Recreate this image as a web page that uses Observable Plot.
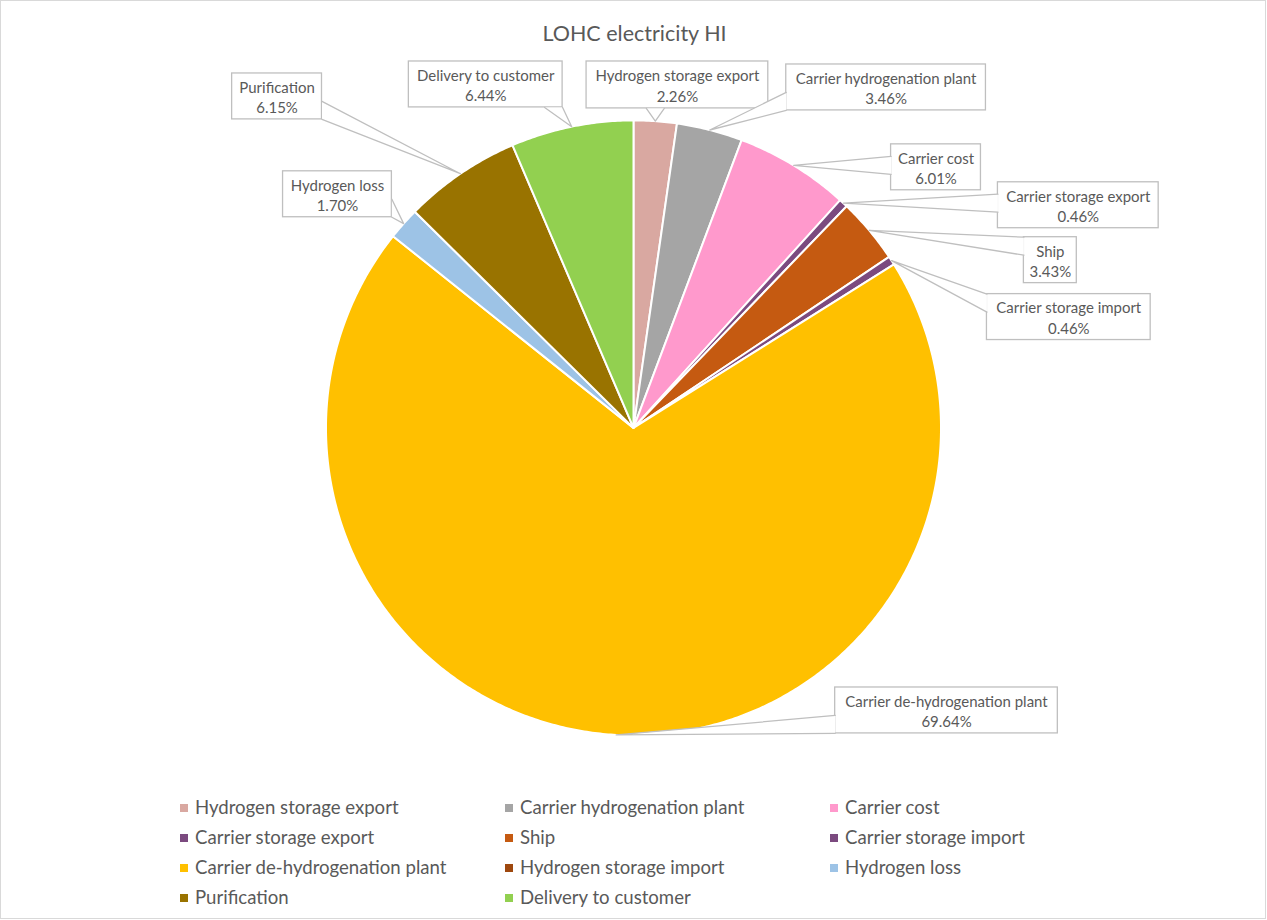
<!DOCTYPE html>
<html><head><meta charset="utf-8">
<script src="https://cdn.jsdelivr.net/npm/d3@7"></script>
<script src="https://cdn.jsdelivr.net/npm/@observablehq/plot@0.6"></script>
<style>
body{margin:0;background:#fff;font-family:Lato,"Open Sans",sans-serif;}
#chart{position:absolute;left:0;top:0;width:1264px;height:917px;border:1px solid #d9d9d9;background:#fff;overflow:hidden;}
#title{position:absolute;left:0;width:1267px;top:19px;text-align:center;font-size:21.5px;color:#595959;}
#plot{position:absolute;left:-1px;top:49px;}
#legend{position:absolute;left:-1px;top:0;width:1267px;height:917px;pointer-events:none;}
.li{position:absolute;font-size:18.6px;color:#595959;white-space:nowrap;line-height:20px;}
.sw{position:absolute;width:8px;height:8px;}
</style></head><body>
<div id="chart"><div id="title">LOHC electricity HI</div><div id="plot"></div><div id="legend"></div></div>
<script>
// ---- data ----
const categories = ["Hydrogen storage export","Carrier hydrogenation plant","Carrier cost","Carrier storage export","Ship","Carrier storage import","Carrier de-hydrogenation plant","Hydrogen storage import","Hydrogen loss","Purification","Delivery to customer"];
const values = [2.26, 3.46, 6.01, 0.46, 3.43, 0.46, 69.64, 0, 1.70, 6.15, 6.44];
const colors = ["#D9A8A1","#A5A5A5","#FF99CC","#7B4A7F","#C55A11","#7B4A7F","#FFC000","#9E480E","#9DC3E6","#997300","#92D050"];

// ---- layout (label boxes: [x1,y1,x2,y2] in page px) ----
const labelBoxes = [[587,60,769,107],[787,63,987,109],[892,143,982,189],[999,181,1160,227],[1025,236,1078,282],[988,293,1152,339],[836,687,1059,733],null,[283,170,392,216],[232,72,322,118],[409,60,563,106]];
const legendCols = [180,505,830], legendRows = [807,837,867,897];
const cx = 634, cy = 427, R = 308;
const W = 1267, TOP = 49, H = 740;

const data = categories.map((name,i)=>({name, value: values[i], color: colors[i], box: labelBoxes[i]}));
const arcs = d3.pie().sort(null).value(d=>d.value)(data);
const pt = (a,r)=>({x: cx + r*Math.sin(a), y: cy - r*Math.cos(a)});

// slice outlines
const slicePts = [];
arcs.filter(a=>a.data.value>0).forEach(a=>{
  const n = Math.max(2, Math.ceil((a.endAngle-a.startAngle)/(Math.PI/360)));
  slicePts.push({name:a.data.name, ...pt(0,0)});
  for(let k=0;k<=n;k++){ slicePts.push({name:a.data.name, ...pt(a.startAngle+(a.endAngle-a.startAngle)*k/n, R)}); }
  slicePts.push({name:a.data.name, ...pt(0,0)});
});

// label callouts
const labels = arcs.filter(a=>a.data.box).map(a=>{
  const [x1,y1,x2,y2] = a.data.box;
  const tip = pt((a.startAngle+a.endAngle)/2, R);
  const nx = Math.max(x1, Math.min(x2, tip.x)), ny = Math.max(y1, Math.min(y2, tip.y));
  const dx = Math.abs(tip.x-nx), dy = Math.abs(tip.y-ny);
  const hw = 9;
  let b1, b2;
  if (dx > dy) {
    const yc = Math.max(y1+hw, Math.min(y2-hw, ny));
    b1 = {x:nx, y:yc-hw}; b2 = {x:nx, y:yc+hw};
  } else {
    const xc = Math.max(x1+hw, Math.min(x2-hw, nx));
    b1 = {x:xc-hw, y:ny}; b2 = {x:xc+hw, y:ny};
  }
  return {name:a.data.name, pct: a.data.value.toFixed(2)+"%", x1,y1,x2,y2, tip, b1, b2};
});
const wedgePts = labels.flatMap(l=>[{name:l.name,...l.b1},{name:l.name,...l.tip},{name:l.name,...l.b2}]);

const plot = Plot.plot({
  width: W, height: H, margin: 0,
  style: {fontFamily: "Lato, 'Open Sans', sans-serif", background: "transparent"},
  x: {domain:[0,W], range:[0,W], axis:null},
  y: {domain:[TOP,TOP+H], range:[0,H], axis:null},
  color: {domain: categories, range: colors},
  marks: [
    Plot.line(slicePts, {x:"x", y:"y", z:"name", fill:"name", stroke:"white", strokeWidth:2, strokeLinejoin:"round"}),
    Plot.rect(labels, {x1:"x1", x2:"x2", y1:"y1", y2:"y2", fill:"white", stroke:"#bfbfbf", strokeWidth:1.3}),
    Plot.line(wedgePts, {x:"x", y:"y", z:"name", fill:"white", stroke:"#bfbfbf", strokeWidth:1.3}),
    Plot.text(labels, {x:d=>(d.x1+d.x2)/2, y:d=>(d.y1+d.y2)/2, text:d=>d.name+"\n"+d.pct, lineHeight:1.36, fontSize:15, fill:"#595959"})
  ]
});
document.getElementById("plot").appendChild(plot);

// legend
const leg = document.getElementById("legend");
categories.forEach((c,i)=>{
  const col = i%3, row = Math.floor(i/3);
  const sw = document.createElement("div");
  sw.className="sw"; sw.style.background = colors[i];
  sw.style.left = legendCols[col]+"px"; sw.style.top = (legendRows[row]-4)+"px";
  leg.appendChild(sw);
  const t = document.createElement("div");
  t.className="li"; t.textContent = c;
  t.style.left = (legendCols[col]+15)+"px"; t.style.top = (legendRows[row]-11)+"px";
  leg.appendChild(t);
});
</script>
</body></html>
